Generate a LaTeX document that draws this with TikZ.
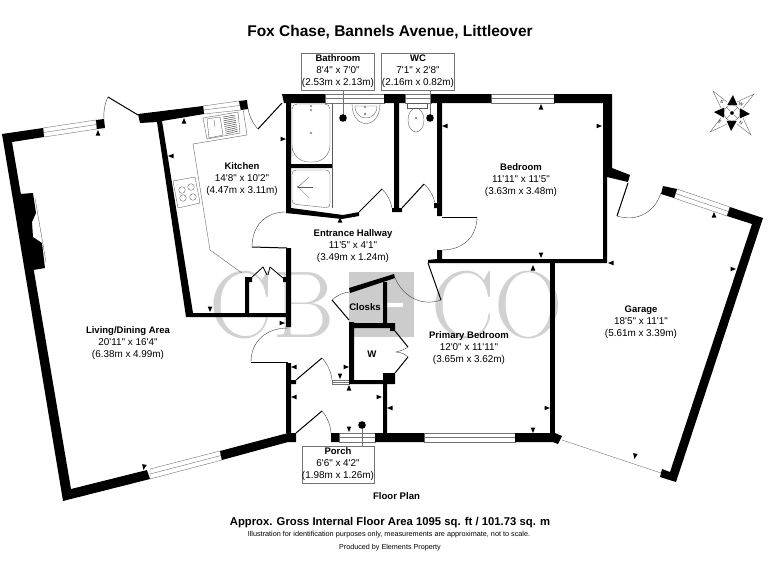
\documentclass[tikz,border=0pt]{standalone}
\usepackage{fontspec}
\newfontfamily\planfont{Liberation Sans}
\usetikzlibrary{calc,positioning}

\newcommand\doorswing[4]{%
  \draw[doorleaf] (#1) -- (#2);
  \coordinate (swingtop) at ($($(#2)!.5!(#3)$)!-#4!(#1)$);
  \draw[swing] (#2) .. controls ($(#2)!.6!(swingtop)$) and ($(#3)!.6!(swingtop)$) .. (#3);}
\newcommand\rname[1]{{\bfseries\fontsize{9.5}{12}\selectfont #1}}

\begin{document}
\begin{tikzpicture}
    [x=1pt,y=-1pt,
    wall/.style={fill=black},
    fitting/.style={draw=black!65,line width=.35pt},
    glass/.style={draw=black!55,line width=.4pt},
    doorleaf/.style={draw=black,line width=1pt},
    swing/.style={draw=black!75,line width=.4pt},
    room/.style={font=\planfont\fontsize{9.9}{12}\selectfont,align=center,inner sep=0pt},
    roomname/.style={font=\planfont\bfseries\fontsize{9.6}{12}\selectfont,inner sep=0pt},
    compassmark/.style={rotate=-30,font=\planfont\fontsize{4.5}{5}\selectfont,inner sep=0pt},
    ghost/.style={font=\fontsize{95}{95}\selectfont,text=black!18,inner sep=0pt,anchor=base west}]
    \useasboundingbox (0,0) rectangle (768,576);
    % watermark
    \node[ghost] (ghostleft) at (209,337) {CB};
    \node[ghost] (ghostright) at (431,337) {CO};
    \fill[black!20] (349,272) rectangle (414,337);
    \fill[white] (387,303) rectangle (403,307);
    % windows
    \foreach \ax/\ay/\bx/\by/\cx/\cy/\dx/\dy in
      {43/128/96/120/97/129/44/137, 150/469/220/451/222/460/150/479,
       203/106/239/101/241/110/204/114, 325/94/384/94/384/103/325/103,
       405/94/431/94/431/103/405/103, 491/94/554/94/554/103/491/103,
       339/433/375/433/375/442/339/442, 424/433/515/433/515/442/424/442,
       332/380/349/380/349/384/332/384, 677/189/730/207/727/216/674/198} {
      \draw[glass] (\ax,\ay) -- (\bx,\by) -- (\cx,\cy) -- (\dx,\dy) -- cycle;
      \draw[glass] ($(\ax,\ay)!.5!(\dx,\dy)$) -- ($(\bx,\by)!.5!(\cx,\cy)$);
    }
    % walls
    \fill[wall] (2,134) -- (43,128) -- (44,137) -- (12,142) -- (71,489) -- (147,470)
      -- (150,479) -- (63,501) -- cycle;
    \fill[wall] (96,120) -- (104,119) -- (105,128) -- (97,129) -- cycle;
    \fill[wall] (20,194) -- (33,193) -- (36,213) -- (32,222) -- (33,237) -- (42,243)
      -- (45,268) -- (33,270) -- cycle;
    \draw[fitting] (35,198) -- (46,262);
    \fill[wall] (220,451) -- (288,433) -- (296,433) -- (296,442) -- (288,442) -- (222,460) -- cycle;
    \fill[wall] (138,114) -- (203,106) -- (204,114) -- (162,121) -- (193,313) -- (288,313)
      -- (288,317) -- (186,317) -- (157,122) -- (140,123) -- cycle;
    \fill[wall] (239,101) -- (247,100) -- (248,109) -- (241,110) -- cycle;
    \fill[wall] (245,278) rectangle (249,313) (245,277) rectangle (252,282)
      (283,277) rectangle (288,282);
    \fill[wall] (286,248) rectangle (291,327) (286,363) rectangle (291,433)
      (288,380) rectangle (296,384);
    \fill[wall] (282,94) -- (325,94) -- (325,103) -- (284,103) -- cycle;
    \fill[wall] (286,103) rectangle (291,213) (291,164) rectangle (332,168);
    \fill[wall] (291,208) -- (343,215) -- (359,212) -- (359,216) -- (342,219) -- (286,213) -- cycle;
    \fill[wall] (384,94) rectangle (405,103) (394,103) rectangle (399,212)
      (392,208) rectangle (402,212);
    \fill[wall] (431,94) rectangle (491,103) (437,103) rectangle (442,216)
      (434,203) rectangle (438,208);
    \fill[wall] (554,94) -- (612,94) -- (612,168) -- (630,175) -- (628,182) -- (607,177)
      -- (607,263) -- (431,263) -- (428,263) -- (428,260) -- (437,259) -- (437,250)
      -- (442,250) -- (442,259) -- (603,259) -- (603,103) -- (554,103) -- cycle;
    \fill[wall] (550,263) rectangle (555,433);
    \fill[wall] (331,433) rectangle (339,442) (375,433) rectangle (424,442)
      (515,433) rectangle (555,442);
    \fill[wall] (555,433) -- (562,436) -- (558,444) -- (553,442) -- cycle;
    \fill[wall] (349,288) -- (394,274) -- (395,278) -- (350,293) -- cycle;
    \fill[wall] (383,282) rectangle (387,323) (349,322) rectangle (354,384)
      (349,323) rectangle (395,328) (390,323) rectangle (395,331)
      (349,380) rectangle (395,384) (383,373) rectangle (395,384)
      (383,384) rectangle (387,433);
    \fill[wall] (730,207) -- (763,218) -- (676,482) -- (660,477) -- (662,469) -- (670,472)
      -- (752,224) -- (727,216) -- cycle;
    \fill[wall] (663,186) -- (677,189) -- (674,198) -- (661,194) -- cycle;
    % doors
    \doorswing{138,115}{108,97}{104,119}{.1}
    \doorswing{282,103}{258,129}{248,108}{.12}
    \doorswing{287,248}{252,247}{287,212}{1}
    \doorswing{288,362}{251,362}{288,328}{1}
    \doorswing{296,380}{322,358}{332,380}{.13}
    \doorswing{296,433}{322,411}{331,433}{.13}
    \doorswing{359,212}{382,189}{392,208}{.12}
    \doorswing{402,208}{424,184}{435,203}{.12}
    \doorswing{442,217}{477,217}{442,250}{1}
    \doorswing{428,263}{441,300}{395,278}{.84}
    \doorswing{349,320}{332,300}{349,292}{.13}
    \doorswing{628,183}{617,216}{661,193}{1}
    \draw[doorleaf,line width=.8pt] (251,278) -- (263,267) -- (267,275);
    \draw[doorleaf,line width=.8pt] (270,267) -- (283,278);
    \draw[doorleaf,line width=.8pt] (270,267) -- (268,275);
    \draw[doorleaf] (395,331) -- (408,347);
    \draw[doorleaf] (395,373) -- (408,357);
    \draw[swing] (408,347) .. controls (403,350) .. (396,352) .. controls (403,353) .. (408,357);
    \draw[glass] (562,440) -- (661,473);
    % kitchen fittings
    \draw[fitting] (243,109) -- (247,135) -- (193,144) -- (210,250) -- (242,273);
    \draw[fitting] (203,118) -- (238,112) -- (240,133) -- (207,139) -- cycle;
    \draw[fitting] (207,119) -- (220,117) -- (223,135) -- (209,138) -- cycle;
    \draw[fitting] (214,120) -- (215,127);
    \foreach \hatch in {0,.1,...,1} {
      \draw[black!70,line width=.5pt] ($(223,117)!\hatch!(226,136)$) -- ($(235,115)!\hatch!(238,133)$);
    }
    \draw[fitting] (173,181) -- (195,177) -- (200,203) -- (178,208) -- cycle;
    \foreach \cx/\cy in {182/190, 191/187, 183/198, 193/197} {
      \draw[fitting] (\cx,\cy) circle (3.3);
    }
    % sanitary fittings
    \draw[fitting] (332,103) -- (332,208);
    \draw[fitting,rounded corners=5pt] (292,104) -- (330,104) -- (330,140)
      [rounded corners=17pt] -- (330,162) -- (292,162) -- (292,140)
      [rounded corners=5pt] -- cycle;
    \draw[fitting] (311,133) circle (1) (311,106) circle (1) (311,110) circle (1);
    \draw[fitting,rounded corners=4pt] (292,170) -- (330,170) -- (330,208) -- (292,204) -- cycle;
    \foreach \rayx/\rayy in {309/177, 313/187, 309/198} {
      \draw[fitting] (298,187) -- (\rayx,\rayy);
    }
    \draw[fitting] (298,187) circle (1);
    \draw[fitting] (352,104) .. controls (352,130) and (380,130) .. (380,104);
    \draw[fitting] (355,106) .. controls (355,122) and (377,122) .. (377,106) -- cycle;
    \draw[fitting] (365,107) circle (1) (365,114) circle (1.2);
    \draw[fitting] (407,103) rectangle (427,108);
    \draw[fitting] (416,120) ellipse (8 and 12);
    \draw[fitting] (416,118) circle (.8);
    % level marks, one per wall
    \foreach \tx/\ty/\ang in
      {98/133/0, 184/121/0, 171/156/90, 283/139/270, 340/220/0, 445/126/90, 282/323/270,
       294/367/90, 294/397/90, 346/367/270, 340/376/180, 349/388/0, 379/397/270, 390/408/90,
       349/429/180, 541/107/0, 599/126/270, 541/255/180, 533/268/0, 611/263/90, 714/215/0,
       733/269/270, 547/408/270, 533/430/180, 635/456/170, 144/467/170, 210/309/180} {
      \fill[black,shift={(\tx,\ty)},rotate=\ang] (0,-3) -- (2.3,2.5) -- (-2.3,2.5) -- cycle;
    }
    % compass
    \begin{scope}[shift={(732,113)}]
      \foreach \ang in {0,90,180,270} {
        \draw[fitting,rotate=\ang] (-11,-5) -- (-19,-22) -- (-5,-11);
        \fill[rotate=\ang-3] (0,-8) -- (5,-8) -- (0,-18) -- (-5,-8) -- cycle;
        \draw[fitting,rotate=\ang+45] (0,-2) -- (0,-8);
      }
      \draw[fitting] (0,0) circle (8);
      \fill[rotate=45] (-1.5,-1.5) rectangle (1.5,1.5);
      \node[compassmark] (compassS) at (-10,-11) {S};
      \node[compassmark] (compassW) at (9,-9) {W};
      \node[compassmark] (compassN) at (9,10) {N};
      \node[compassmark] (compassE) at (-12,9) {E};
    \end{scope}
    % tagged rooms
    \draw[glass] (301,53) rectangle (374,90);
    \draw[glass] (381,53) rectangle (454,90);
    \draw[glass] (302,446) rectangle (374,483);
    \draw[glass] (343,90) -- (343,118) (430,90) -- (430,118) (362,425) -- (362,446);
    \fill (343,118) circle (3.8) (430,118) circle (3.8) (362,425) circle (3.8);
    % labels
    \node[font=\planfont\bfseries\fontsize{15.5}{17}\selectfont,inner sep=0pt] (title) at (390,32) {Fox Chase, Bannels Avenue, Littleover};
    \node[room] (kitchen) at (242,179) {\rname{Kitchen}\\14'8" x 10'2"\\(4.47m x 3.11m)};
    \node[room] (bathroom) at (338,71) {\rname{Bathroom}\\8'4" x 7'0"\\(2.53m x 2.13m)};
    \node[room] (wc) at (418,71) {\rname{WC}\\7'1" x 2'8"\\(2.16m x 0.82m)};
    \node[room] (bedroom) at (521,180) {\rname{Bedroom}\\11'11" x 11'5"\\(3.63m x 3.48m)};
    \node[room] (hallway) at (353,246) {\rname{Entrance Hallway}\\11'5" x 4'1"\\(3.49m x 1.24m)};
    \node[room] (living) at (128,343) {\rname{Living/Dining Area}\\20'11" x 16'4"\\(6.38m x 4.99m)};
    \node[room] (primary) at (469,348) {\rname{Primary Bedroom}\\12'0" x 11'11"\\(3.65m x 3.62m)};
    \node[room] (garage) at (641,322) {\rname{Garage}\\18'5" x 11'1"\\(5.61m x 3.39m)};
    \node[room] (porch) at (338,464) {\rname{Porch}\\6'6" x 4'2"\\(1.98m x 1.26m)};
    \node[roomname] (closks) at (365,307) {Closks};
    \node[roomname] (cupboard) at (372,354) {W};
    \node[roomname] (floorplan) at (396.5,496) {Floor Plan};
    \node[font=\planfont\bfseries\fontsize{11.3}{13}\selectfont,inner sep=0pt] (area) at (390,523) {Approx. Gross Internal Floor Area 1095 sq. ft / 101.73 sq. m};
    \node[font=\planfont\fontsize{7.26}{9}\selectfont,inner sep=0pt] (disclaimer) at (389,535) {Illustration for identification purposes only, measurements are approximate, not to scale.};
    \node[font=\planfont\fontsize{7.2}{9}\selectfont,inner sep=0pt] (credit) at (390,548) {Produced by Elements Property};
\end{tikzpicture}
\end{document}
